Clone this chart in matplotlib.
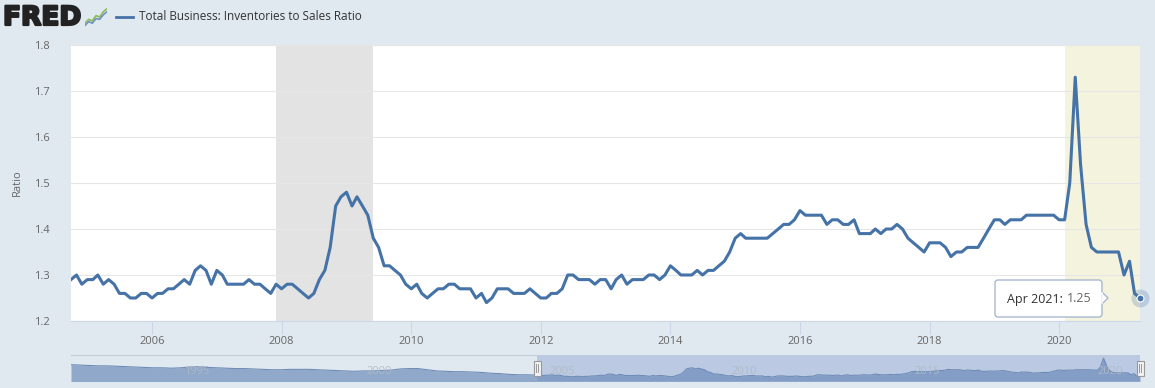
import numpy as np
import pandas as pd
import matplotlib
matplotlib.use("Agg")
import matplotlib.pyplot as plt
import matplotlib.dates as mdates
import matplotlib.patheffects as pe
from matplotlib.patches import Rectangle, FancyBboxPatch, Polygon
from matplotlib.lines import Line2D
from matplotlib.transforms import IdentityTransform

# Total Business: Inventories to Sales Ratio, monthly, Oct 2004 - Apr 2021
ratio = [
    1.29, 1.30, 1.28,
    1.29, 1.29, 1.30, 1.28, 1.29, 1.28, 1.26, 1.26, 1.25, 1.25, 1.26, 1.26,  # 2005
    1.25, 1.26, 1.26, 1.27, 1.27, 1.28, 1.29, 1.28, 1.31, 1.32, 1.31, 1.28,  # 2006
    1.31, 1.30, 1.28, 1.28, 1.28, 1.28, 1.29, 1.28, 1.28, 1.27, 1.26, 1.28,  # 2007
    1.27, 1.28, 1.28, 1.27, 1.26, 1.25, 1.26, 1.29, 1.31, 1.36, 1.45, 1.47,  # 2008
    1.48, 1.45, 1.47, 1.45, 1.43, 1.38, 1.36, 1.32, 1.32, 1.31, 1.30, 1.28,  # 2009
    1.27, 1.28, 1.26, 1.25, 1.26, 1.27, 1.27, 1.28, 1.28, 1.27, 1.27, 1.27,  # 2010
    1.25, 1.26, 1.24, 1.25, 1.27, 1.27, 1.27, 1.26, 1.26, 1.26, 1.27, 1.26,  # 2011
    1.25, 1.25, 1.26, 1.26, 1.27, 1.30, 1.30, 1.29, 1.29, 1.29, 1.28, 1.29,  # 2012
    1.29, 1.27, 1.29, 1.30, 1.28, 1.29, 1.29, 1.29, 1.30, 1.30, 1.29, 1.30,  # 2013
    1.32, 1.31, 1.30, 1.30, 1.30, 1.31, 1.30, 1.31, 1.31, 1.32, 1.33, 1.35,  # 2014
    1.38, 1.39, 1.38, 1.38, 1.38, 1.38, 1.38, 1.39, 1.40, 1.41, 1.41, 1.42,  # 2015
    1.44, 1.43, 1.43, 1.43, 1.43, 1.41, 1.42, 1.42, 1.41, 1.41, 1.42, 1.39,  # 2016
    1.39, 1.39, 1.40, 1.39, 1.40, 1.40, 1.41, 1.40, 1.38, 1.37, 1.36, 1.35,  # 2017
    1.37, 1.37, 1.37, 1.36, 1.34, 1.35, 1.35, 1.36, 1.36, 1.36, 1.38, 1.40,  # 2018
    1.42, 1.42, 1.41, 1.42, 1.42, 1.42, 1.43, 1.43, 1.43, 1.43, 1.43, 1.43,  # 2019
    1.42, 1.42, 1.50, 1.73, 1.54, 1.41, 1.36, 1.35, 1.35, 1.35, 1.35, 1.35,  # 2020
    1.30, 1.33, 1.26, 1.25,                                                  # 2021
]
dates = pd.date_range("2004-10-01", periods=len(ratio), freq="MS")

# earlier history (quarterly, Q1 1992 - Q3 2004), only shown in the navigator
early_ratio = [
    1.56, 1.55, 1.54, 1.53,
    1.53, 1.52, 1.51, 1.50,
    1.49, 1.48, 1.48, 1.47,
    1.48, 1.50, 1.51, 1.49,
    1.48, 1.47, 1.46, 1.46,
    1.45, 1.44, 1.43, 1.43,
    1.44, 1.44, 1.44, 1.43,
    1.42, 1.41, 1.40, 1.39,
    1.40, 1.40, 1.41, 1.42,
    1.45, 1.46, 1.46, 1.43,
    1.40, 1.39, 1.38, 1.38,
    1.37, 1.36, 1.34, 1.33,
    1.31, 1.30, 1.30,
]
early_dates = pd.date_range("1992-01-01", periods=len(early_ratio), freq="QS")

recession = ("2007-12-01", "2009-06-01")
covid = ("2020-02-01", "2021-04-01")
year_ticks = [2006, 2008, 2010, 2012, 2014, 2016, 2018, 2020]
nav_years = [1995, 2000, 2005, 2010, 2015, 2020]
y_ticks = [1.2, 1.3, 1.4, 1.5, 1.6, 1.7, 1.8]

W, H = 1155, 388
BG = "#e1e9f0"
BLUE = "#4572a7"
FONT = ["Open Sans", "DejaVu Sans"]
plt.rcParams["font.family"] = FONT


def fx(px):
    return px / W


def fy(py):
    return 1 - py / H


fig = plt.figure(figsize=(W / 100, H / 100), dpi=100, facecolor=BG)

# main chart
ax = fig.add_axes([fx(71), fy(321), fx(1140) - fx(71), fy(45) - fy(321)])
ax.set_facecolor("white")
ax.axvspan(pd.Timestamp(recession[0]), pd.Timestamp(recession[1]), color="#e3e3e3", lw=0, zorder=0.5)
ax.axvspan(pd.Timestamp(covid[0]), pd.Timestamp(covid[1]), color="#f4f3dd", lw=0, zorder=0.5)
ax.plot(dates, ratio, color=BLUE, lw=2.2, solid_joinstyle="round", zorder=3)
ax.plot(dates[-1], ratio[-1], "o", ms=13, color=BLUE, alpha=0.25, mec="none", clip_on=False, zorder=4)
ax.plot(dates[-1], ratio[-1], "o", ms=5, color=BLUE, mec="white", mew=0.8, clip_on=False, zorder=5)

ax.set_xlim(dates[0], dates[-1])
ax.set_ylim(1.2, 1.8)
ax.set_yticks(y_ticks)
ax.set_yticklabels([f"{v:.1f}" for v in y_ticks])
ax.set_xticks([pd.Timestamp(f"{y}-01-01") for y in year_ticks])
ax.set_xticklabels([str(y) for y in year_ticks])
ax.yaxis.grid(True, color="#e6e6e6", lw=0.8)
ax.set_axisbelow(True)
for s in ["left", "right", "top"]:
    ax.spines[s].set_visible(False)
ax.spines["bottom"].set_color("#ccd6eb")
ax.spines["bottom"].set_linewidth(0.8)
ax.tick_params(axis="y", length=0, pad=15, labelsize=8, labelcolor="#666666")
ax.tick_params(axis="x", length=9, width=0.8, color="#ccd6eb", pad=2, labelsize=8, labelcolor="#666666")
fig.text(fx(17), fy(183), "Ratio", rotation=90, fontsize=8, color="#666666", ha="center", va="center")

# tooltip on last point
fig.canvas.draw()
renderer = fig.canvas.get_renderer()
px, py = ax.transData.transform((mdates.date2num(dates[-1]), ratio[-1]))
ident = IdentityTransform()
box = FancyBboxPatch((px - 145, py - 19), 107, 37, boxstyle="round,pad=0,rounding_size=3",
                     fc="white", ec="#9fb2cc", lw=0.9, transform=ident, zorder=10)
fig.add_artist(box)
tri = Polygon([(px - 38, py + 6), (px - 32, py), (px - 38, py - 6)], closed=True,
              fc="white", ec="#9fb2cc", lw=0.9, transform=ident, zorder=11)
fig.add_artist(tri)
fig.add_artist(Line2D([px - 38, px - 38], [py - 5.3, py + 5.3], color="white", lw=1.2,
                      transform=ident, zorder=12))
t1 = fig.text(px - 133, py - 1, "Apr 2021:", transform=ident, fontsize=9, color="#333333",
              ha="left", va="center", zorder=13)
x_end = t1.get_window_extent(renderer).x1
fig.text(x_end + 4, py - 1, "1.25", transform=ident, fontsize=9, color="#666666",
         ha="left", va="center", zorder=13)

# header: logo + legend
fig.text(fx(3), fy(18), "FRED", fontsize=19, fontweight="heavy", color="#222222",
         family=["DejaVu Sans"], ha="left", va="center",
         path_effects=[pe.withStroke(linewidth=1.6, foreground="#222222")])
icon = fig.add_axes([fx(85), fy(27), fx(22), fy(0) - fy(21)])
icon.set_facecolor("#d6dfe9")
icon_x = [0, 1, 2, 3, 4, 5, 6]
icon_green = [1, 2, 1.6, 3, 2.6, 4, 4.8]
icon_blue = [0.4, 1.4, 1.0, 2.2, 2.0, 3.2, 4.0]
icon.plot(icon_x, icon_green, color="#8dba5a", lw=1.2)
icon.plot(icon_x, icon_blue, color="#6f93c0", lw=1.2)
icon.set_xlim(0, 6)
icon.set_ylim(0, 5.5)
icon.axis("off")

fig.add_artist(Line2D([fx(116), fx(133)], [fy(17), fy(17)], color=BLUE, lw=2))
fig.text(fx(139), fy(17), "Total Business: Inventories to Sales Ratio", fontsize=8.5,
         color="#333333", ha="left", va="center")

# navigator strip
nav = fig.add_axes([fx(71), fy(381), fx(1140) - fx(71), fy(355) - fy(381)])
nav.patch.set_visible(False)
all_dates = list(early_dates) + list(dates)
all_vals = early_ratio + ratio
nav.fill_between(all_dates, all_vals, 1.0, color="#90a8c9", lw=0)
nav.plot(all_dates, all_vals, color="#6f8cb6", lw=0.8)
nav.axvspan(dates[0], dates[-1], color="#6685c2", alpha=0.3, lw=0)
nav.set_xlim(early_dates[0], dates[-1])
nav.set_ylim(1.14, 1.81)
nav.axis("off")
nav.plot([early_dates[0], dates[0]], [1.81, 1.81], color="#c4ccd6", lw=0.8, clip_on=False)
for yr in nav_years:
    nav.annotate(str(yr), xy=(pd.Timestamp(f"{yr}-01-01"), 0.36), xycoords=("data", "axes fraction"),
                 xytext=(3, 0), textcoords="offset pixels", ha="left", va="center",
                 fontsize=8, color="#b0bac6", alpha=0.9)

for d in [dates[0], dates[-1]]:
    hx, _ = nav.transData.transform((mdates.date2num(d), 1.5))
    hy = (H - 368)
    fig.add_artist(Rectangle((hx - 3.5, hy - 7.5), 7, 15, fc="#f2f2f2", ec="#999999", lw=0.8,
                             transform=ident, zorder=10))
    for dx in (-1.2, 1.2):
        fig.add_artist(Line2D([hx + dx, hx + dx], [hy - 4, hy + 4], color="#999999", lw=0.7,
                              transform=ident, zorder=11))

fig.savefig("out.png", dpi=100, facecolor=BG)
